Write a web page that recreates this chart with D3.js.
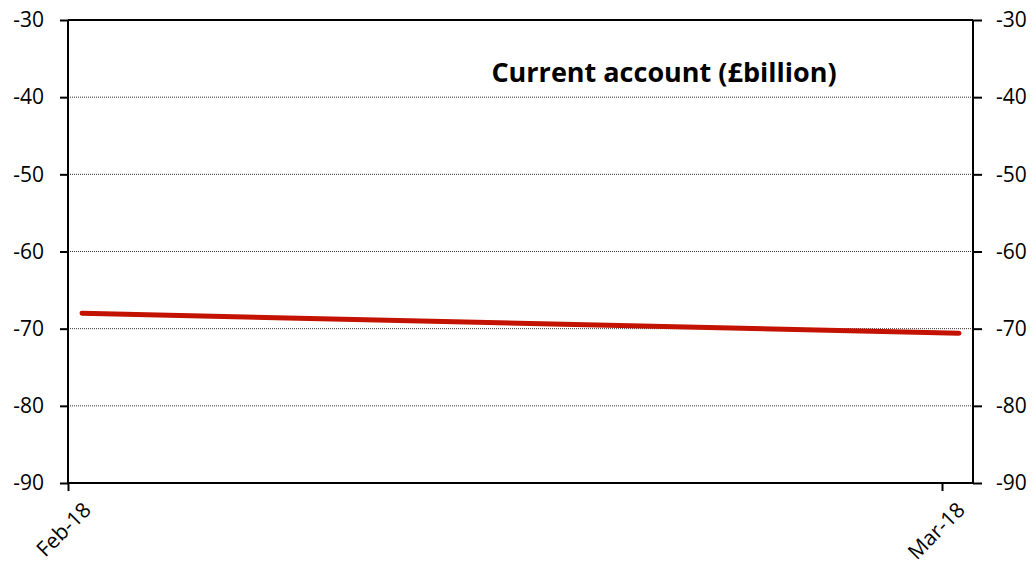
<!DOCTYPE html>
<html>
<head>
<meta charset="utf-8">
<script src="https://cdn.jsdelivr.net/npm/d3@7"></script>
<style>
  body { margin: 0; background: #fff; }
  text { font-family: "Open Sans", "Noto Sans", sans-serif; fill: #000; }
</style>
</head>
<body>
<div id="chart"></div>
<script>
let months = ["Feb-18", "Mar-18"];
let currentAccount = [-68.0, -70.6];
let yTicks = [-90, -80, -70, -60, -50, -40, -30];
let chartTitle = "Current account (£billion)";

let width = 1036, height = 570;
let plotLeft = 68, plotRight = 973, plotTop = 20, plotBottom = 483;

let svg = d3.select('#chart')
    .append('svg')
    .attr('width', width)
    .attr('height', height);

let y = d3.scaleLinear().domain([-90, -30]).range([plotBottom, plotTop]);

// category ticks sit at the left edge of each slot, the line is drawn a bit inset
let xTick = d3.scalePoint().domain(months).range([plotLeft, 942]);
let xLine = d3.scalePoint().domain(months).range([82, 959]);

// dotted gridlines
svg.append('g')
    .selectAll('line')
    .data(yTicks.filter(function (d) { return d > -90 && d < -30; }))
    .enter()
    .append('line')
    .attr('x1', plotLeft).attr('x2', plotRight)
    .attr('y1', function (d) { return y(d); })
    .attr('y2', function (d) { return y(d); })
    .style('stroke', '#333')
    .style('stroke-width', 1)
    .style('stroke-dasharray', '1,1');

// top border
svg.append('line')
    .attr('x1', plotLeft).attr('x2', plotRight)
    .attr('y1', plotTop).attr('y2', plotTop)
    .style('stroke', '#000').style('stroke-width', 2);

let plainNum = function (d) { return String(d); };
let yLeft = d3.axisLeft(y).tickValues(yTicks).tickSize(8).tickPadding(16).tickFormat(plainNum);
let yRight = d3.axisRight(y).tickValues(yTicks).tickSize(9).tickPadding(14).tickFormat(plainNum);
let xAxis = d3.axisBottom(xTick).tickSize(8).tickFormat('');

function styleAxis(g) {
    g.select('.domain').style('stroke', '#000').style('stroke-width', 2);
    g.selectAll('.tick line').style('stroke', '#000').style('stroke-width', 2);
    g.selectAll('.tick text').style('font-size', '21px').style('fill', '#000');
}

svg.append('g').attr('transform', 'translate(' + plotLeft + ',0)').call(yLeft).call(styleAxis)
    .select('.domain').attr('d', 'M0,' + plotTop + 'V' + plotBottom);
svg.append('g').attr('transform', 'translate(' + plotRight + ',0)').call(yRight).call(styleAxis)
    .select('.domain').attr('d', 'M0,' + plotTop + 'V' + plotBottom);
svg.append('g').attr('transform', 'translate(0,' + plotBottom + ')').call(xAxis).call(styleAxis)
    .select('.domain').attr('d', 'M' + plotLeft + ',0H' + plotRight);

// rotated category labels
svg.append('g')
    .selectAll('text')
    .data(months)
    .enter()
    .append('text')
    .attr('transform', function (d) {
        return 'translate(' + (xTick(d) + 19) + ',' + (plotBottom + 23) + ')rotate(-45)';
    })
    .attr('text-anchor', 'end')
    .attr('dy', '0.35em')
    .style('font-size', '21px')
    .text(function (d) { return d; });

// the series line
let line = d3.line()
    .x(function (d, i) { return xLine(months[i]); })
    .y(function (d) { return y(d); });

svg.append('path')
    .datum(currentAccount)
    .attr('d', line)
    .style('fill', 'none')
    .style('stroke', '#c41200')
    .style('stroke-width', 5)
    .style('stroke-linecap', 'round');

svg.append('text')
    .attr('x', 664)
    .attr('y', 82)
    .attr('text-anchor', 'middle')
    .style('font-size', '27px')
    .style('font-weight', 'bold')
    .text(chartTitle);
</script>
</body>
</html>
